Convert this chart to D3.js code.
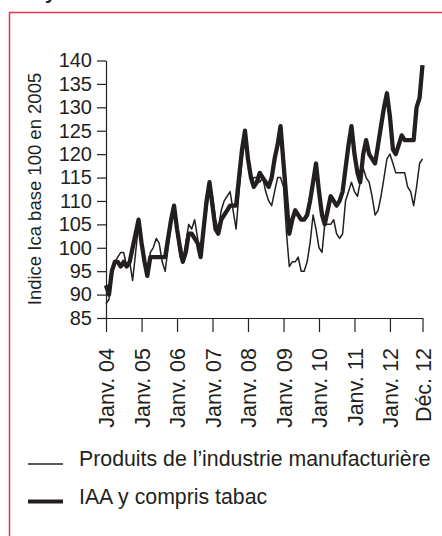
<!DOCTYPE html>
<html>
<head>
<meta charset="utf-8">
<script src="https://cdn.jsdelivr.net/npm/d3@7"></script>
<style>
  html, body { margin: 0; padding: 0; background: #ffffff; overflow: hidden; }
  text { font-family: "Liberation Sans", Arial, sans-serif; fill: #231f20; }
</style>
</head>
<body>
<div id="chartId"></div>
<script>

const WIDTH = 442
const HEIGHT = 536
const INK = "#231f20"
const FRAME_COLOR = "#e2334f"

// monthly values, janvier 2004 -> decembre 2012
const START_YEAR = 2004
const END_YEAR = 2012

const manufValues = [
    88, 89, 94, 97, 98, 99, 99, 96, 97, 93, 99, 105,
    102, 97, 95, 99, 100, 102, 101, 97, 95, 100, 105, 109,
    103, 98, 97, 101, 105, 104, 106, 102, 98, 103, 108, 113,
    111, 106, 104, 108, 110, 111, 112, 108, 104, 112, 119, 123,
    120, 114, 115, 115, 114, 115, 112, 110, 109, 112, 115, 115,
    113, 103, 96, 97, 97, 98, 95, 95, 97, 101, 107, 104,
    100, 99, 105, 105, 105, 106, 103, 102, 103, 110, 112, 114,
    112, 111, 114, 117, 115, 114, 111, 107, 108, 111, 115, 119,
    120, 118, 116, 116, 116, 116, 113, 112, 109, 113, 118, 119
]

const iaaValues = [
    92, 90, 95, 97, 97, 96, 97, 96, 97, 100, 103, 106,
    101, 97, 94, 98, 98, 98, 98, 98, 98, 102, 106, 109,
    104, 100, 97, 99, 103, 103, 102, 101, 98, 104, 110, 114,
    109, 104, 103, 106, 107, 108, 109, 109, 109, 115, 121, 125,
    119, 115, 113, 114, 116, 115, 114, 113, 115, 119, 122, 126,
    118, 110, 103, 106, 108, 107, 106, 106, 107, 110, 114, 118,
    112, 107, 105, 108, 111, 110, 109, 110, 112, 117, 122, 126,
    120, 116, 114, 120, 123, 120, 119, 118, 122, 126, 130, 133,
    128, 121, 120, 122, 124, 123, 123, 123, 123, 130, 132, 139
]

const yTicks = [85, 90, 95, 100, 105, 110, 115, 120, 125, 130, 135, 140]
const seriesNames = ["Produits de l\u2019industrie manufacturi\u00e8re", "IAA y compris tabac"]
const yTitle = "Indice Ica base 100 en 2005"

const months = d3.timeMonth.range(new Date(START_YEAR, 0, 1), new Date(END_YEAR + 1, 0, 1))
const tickDates = d3.range(START_YEAR, END_YEAR + 1).map(y => new Date(y, 0, 1)).concat([new Date(END_YEAR, 11, 1)])

function tickLabel(d) {
    let yy = String(d.getFullYear()).slice(2)
    return (d.getMonth() === 11 ? "D\u00e9c. " : "Janv. ") + yy
}

let svg = d3.select("#chartId").append("svg")
    .attr("width", WIDTH)
    .attr("height", HEIGHT)

// red frame of the figure (runs off the right and bottom)
svg.append("rect")
    .attr("x", 9.5)
    .attr("y", 12.5)
    .attr("width", WIDTH + 20)
    .attr("height", HEIGHT + 20)
    .attr("fill", "none")
    .attr("stroke", FRAME_COLOR)
    .attr("stroke-width", 1.5)

// what is left of the title above the frame
svg.append("text")
    .attr("x", 45)
    .attr("y", -1)
    .style("font-size", "20px")
    .style("font-weight", "bold")
    .text("y")

let x = d3.scaleTime()
    .domain([months[0], months[months.length - 1]])
    .range([106, 422.5])

let y = d3.scaleLinear()
    .domain([85, 140])
    .range([318, 60.5])

let yAxis = svg.append("g")
    .attr("transform", "translate(106,0)")
    .call(d3.axisLeft(y).tickValues(yTicks).tickSize(9).tickSizeOuter(0).tickPadding(5))
yAxis.selectAll("text")
    .style("font-size", "20px")
    .attr("fill", INK)
yAxis.selectAll("line, path").attr("stroke", INK).attr("stroke-width", 1.2)

let xAxis = svg.append("g")
    .attr("transform", "translate(0,318)")
    .call(d3.axisBottom(x).tickValues(tickDates).tickFormat(tickLabel).tickSize(14).tickSizeOuter(0))
xAxis.selectAll("line, path").attr("stroke", INK).attr("stroke-width", 1.2)
xAxis.selectAll("text")
    .style("font-size", "21.5px")
    .attr("fill", INK)
    .attr("text-anchor", "end")
    .attr("transform", "rotate(-90)")
    .attr("x", -30)
    .attr("y", 0)
    .attr("dy", "0.36em")

svg.append("text")
    .attr("transform", "translate(41,189) rotate(-90)")
    .attr("text-anchor", "middle")
    .style("font-size", "18.5px")
    .text(yTitle)

let line = d3.line()
    .x((d, i) => x(months[i]))
    .y(d => y(d))

svg.append("path")
    .datum(iaaValues)
    .attr("d", line)
    .attr("fill", "none")
    .attr("stroke", INK)
    .attr("stroke-width", 4.3)
    .attr("stroke-linejoin", "round")

svg.append("path")
    .datum(manufValues)
    .attr("d", line)
    .attr("fill", "none")
    .attr("stroke", INK)
    .attr("stroke-width", 1.5)
    .attr("stroke-linejoin", "round")

// legend
let legendWidths = [1.3, 4]
let legend = svg.append("g")
let items = legend.selectAll("g")
    .data(seriesNames)
    .join("g")
    .attr("transform", (d, i) => "translate(28," + (464 + i * 37.5) + ")")
items.append("line")
    .attr("x1", 0)
    .attr("x2", 35)
    .attr("stroke", INK)
    .attr("stroke-width", (d, i) => legendWidths[i])
items.append("text")
    .attr("x", 51)
    .attr("y", 2)
    .style("font-size", "21.3px")
    .text(d => d)

</script>
</body>
</html>
